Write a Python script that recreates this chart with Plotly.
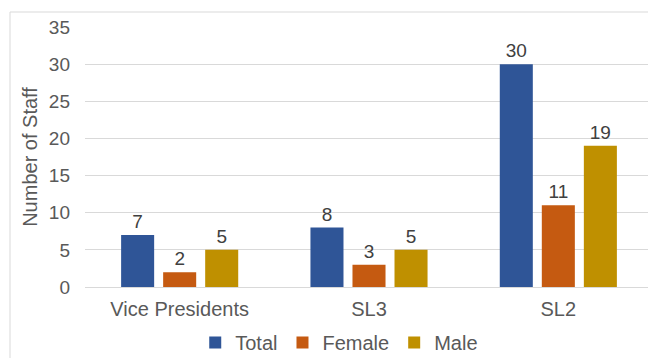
import plotly.graph_objects as go

# data
categories = ["Vice Presidents", "SL3", "SL2"]
total = [7, 8, 30]
female = [2, 3, 11]
male = [5, 5, 19]

series = [
    ("Total", total, "#2F5597"),
    ("Female", female, "#C55A11"),
    ("Male", male, "#BF9000"),
]

# the page puts the figure 8px in from the top-left corner, so the figure
# is made 8px smaller and every position is taken 8px back
W, H = 648, 350
L, R, T, B = 77, 3, 19, 71  # plot area margins in px
FONT = "Liberation Sans, Arial, sans-serif"
TXT = "#595959"

fig = go.Figure()
for name, vals, col in series:
    fig.add_trace(go.Bar(
        x=categories, y=vals, name=name,
        marker=dict(color=col, line=dict(width=0)),
        text=vals, textposition="outside", cliponaxis=False,
        textfont=dict(size=19, color="#404040", family=FONT),
    ))

pw = W - L - R
ph = H - T - B
# outer chart border, in paper coords
fig.add_shape(type="rect", xref="paper", yref="paper",
              x0=(2 - L) / pw, x1=(W - 1 - L) / pw,
              y0=-(H + 5 - T - ph) / ph, y1=1 + (T - 4) / ph,
              line=dict(color="#D9D9D9", width=1), layer="below")

fig.update_layout(
    width=W, height=H,
    margin=dict(l=L, r=R, t=T, b=B, autoexpand=False),
    paper_bgcolor="white", plot_bgcolor="white",
    font=dict(family=FONT, size=19, color=TXT),
    barmode="group", bargap=0.334, bargroupgap=0.214,
    showlegend=True,
    legend=dict(orientation="h", x=0.4476, xanchor="center", y=-0.138, yanchor="top",
                font=dict(size=20, color=TXT), itemwidth=30,
                bgcolor="rgba(0,0,0,0)"),
)
fig.update_xaxes(showgrid=False, showline=False, ticks="", automargin=False,
                 ticklabelstandoff=8, tickfont=dict(size=20, color=TXT))
fig.update_yaxes(range=[0, 35], dtick=5, showgrid=True, gridcolor="#D9D9D9",
                 zeroline=True, zerolinecolor="#D9D9D9", zerolinewidth=1, automargin=False,
                 ticks="", ticklabelstandoff=14, tickfont=dict(size=19, color=TXT),
                 title=dict(text="Number of Staff", font=dict(size=20, color=TXT), standoff=5))

fig.write_html("out.html")
